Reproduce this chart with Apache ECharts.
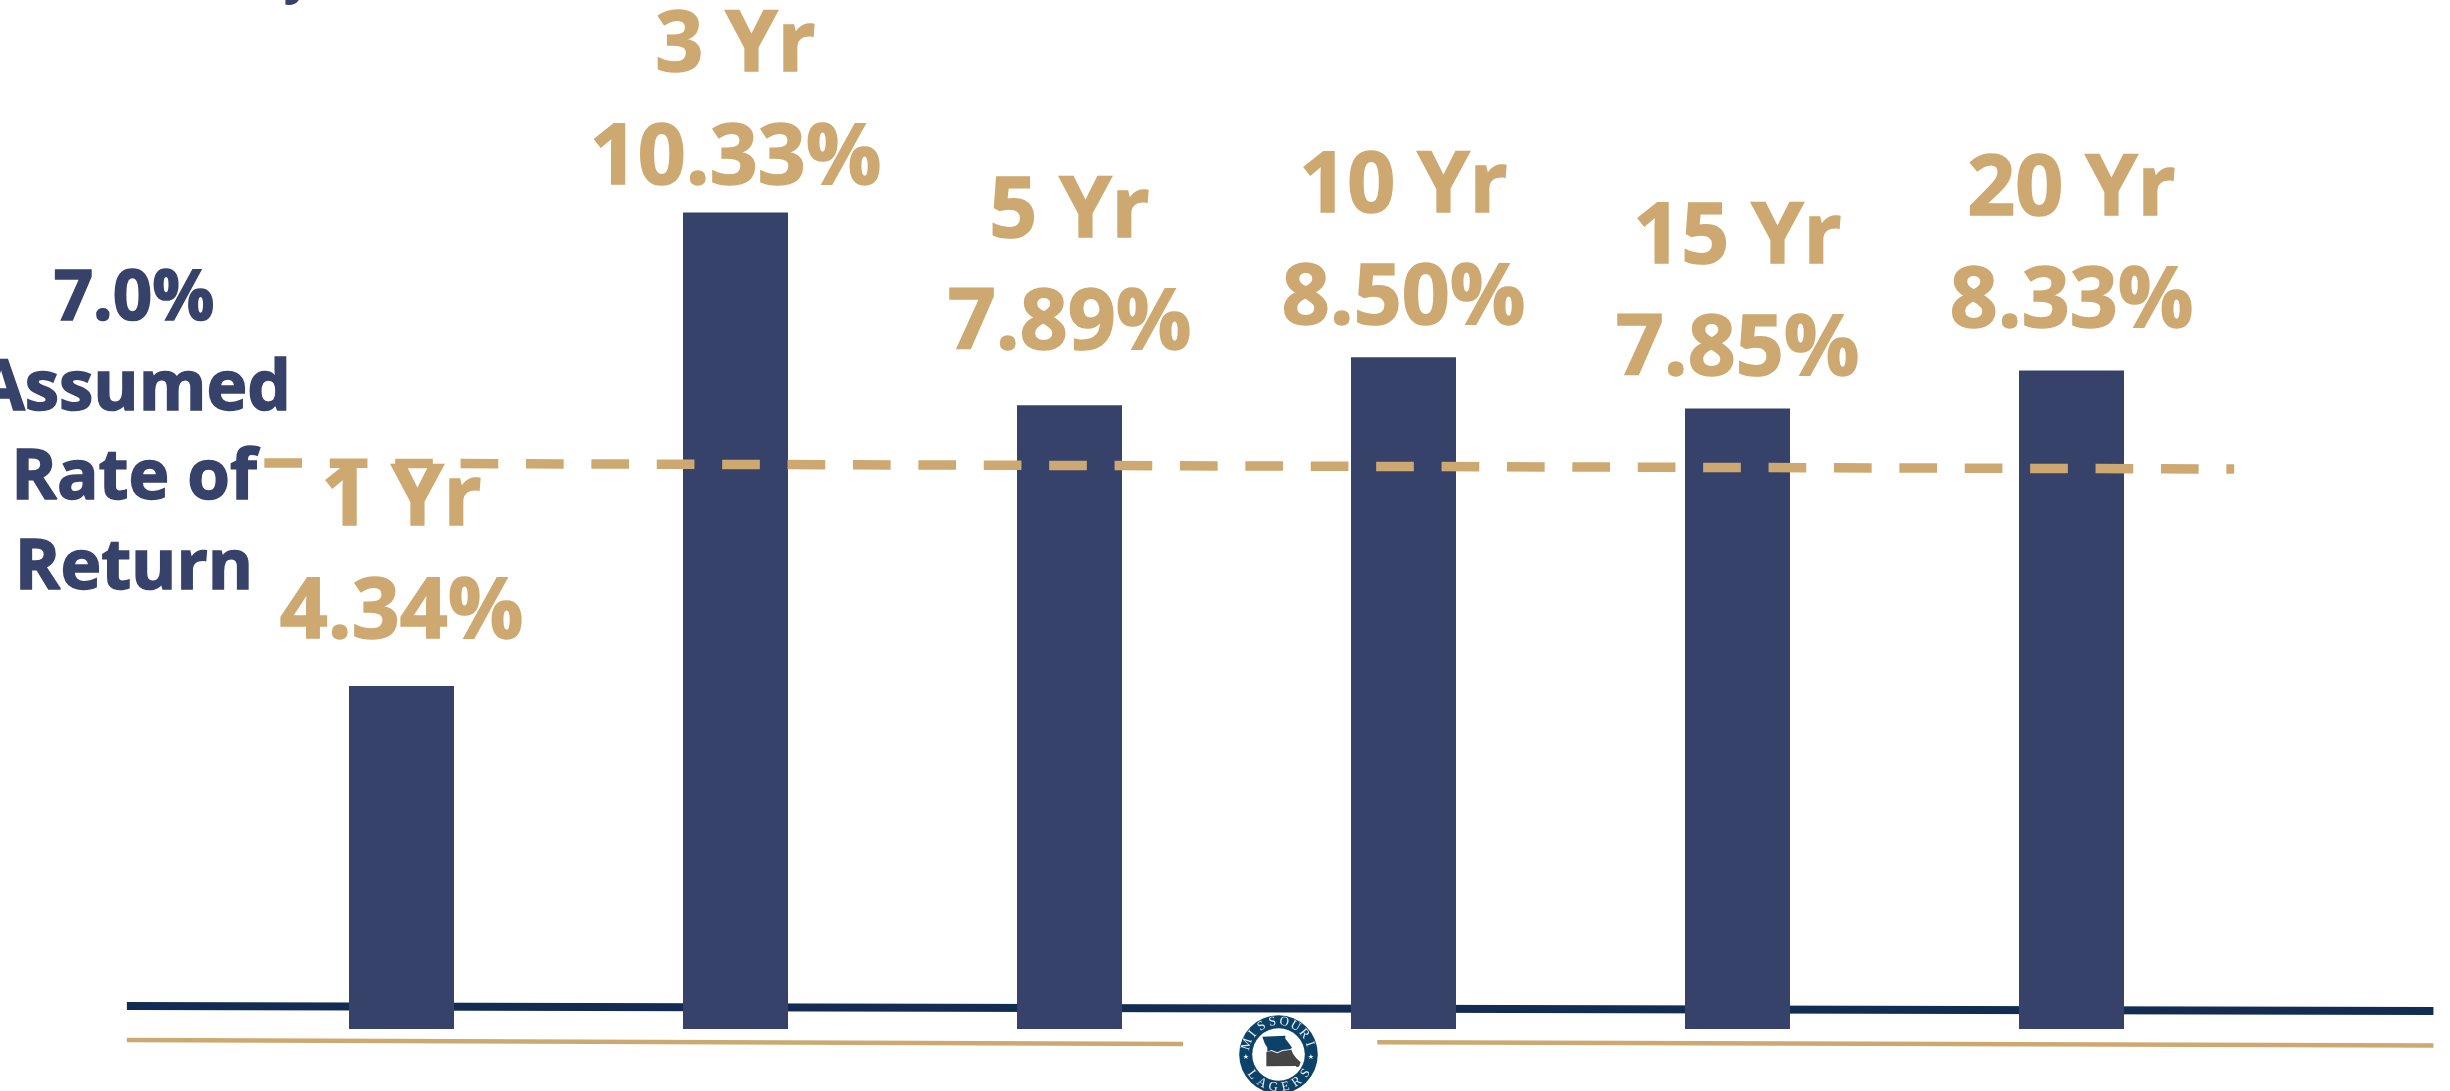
<!DOCTYPE html>
<html>
<head>
<meta charset="utf-8">
<style>html,body{margin:0;padding:0;background:#fff}#c{width:2450px;height:1091px}</style>
<script src="https://cdn.jsdelivr.net/npm/echarts@6/dist/echarts.min.js"></script>
</head>
<body>
<div id="c"></div>
<script>
const categories = ['1 Yr', '3 Yr', '5 Yr', '10 Yr', '15 Yr', '20 Yr'];
const returns = [4.34, 10.33, 7.89, 8.50, 7.85, 8.33];
const assumedLabel = ['7.0%', 'Assumed', 'Rate of', 'Return'];
// Rules, as [category-slot position, value]
const assumedRule = [[0.089, 7.161], [5.992, 7.085]];
const navyRule = [[-0.323, 0.291], [6.589, 0.228]];
const goldRuleLeft = [[-0.323, -0.139], [2.842, -0.19]];
const goldRuleRight = [[3.424, -0.168], [6.589, -0.21]];

const NAVY = '#36426a', GOLD = '#cda971', DEEP = '#132c54', SEAL = '#0d4268';
const FONT = '"Open Sans"';
const labelGap = [21, 1.5, 29, 5.5, 6, 16];
const Y_MIN = -0.7844, Y_MAX = 13.0187;

const chart = echarts.init(document.getElementById('c'), null, {renderer: 'canvas'});

function rule(data, color, width, z, dash) {
  return {
    type: 'line', xAxisIndex: 1, yAxisIndex: 1, data, z, clip: false, silent: true,
    showSymbol: false, symbol: 'none',
    lineStyle: {color, width, type: dash || 'solid', cap: 'butt'}
  };
}

// Seal at the foot of the page
function arcLetters(word, startDeg, stepDeg, radius, flip) {
  const cx = 1278.5, cy = 1054.5;
  return word.split('').map((ch, i) => {
    const a = (startDeg + i * stepDeg) * Math.PI / 180;
    const x = cx + radius * Math.sin(a), y = cy - radius * Math.cos(a);
    return {
      type: 'text', x, y, rotation: flip ? Math.PI - a : -a, z: 30, silent: true,
      style: {text: ch, fill: '#e8eef3', font: '13px "Liberation Serif"', textAlign: 'center', textVerticalAlign: 'middle'}
    };
  });
}
const sealParts = [
  {type: 'circle', shape: {cx: 1278.5, cy: 1054.5, r: 39.3}, style: {fill: SEAL}, z: 28, silent: true},
  {type: 'circle', shape: {cx: 1278.5, cy: 1054.5, r: 26.3}, style: {fill: '#fff'}, z: 29, silent: true},
  {type: 'group', x: 1228, y: 1005, scaleX: 1 / 3, scaleY: 1 / 3, silent: true, z: 30, children: [
    {type: 'polygon', z: 30, shape: {points: [[103,95],[172,92],[172,101],[185,118],[192,128],[186,133],[163,135],[148,142],[130,135],[118,140],[118,128],[110,115]]}, style: {fill: SEAL}},
    {type: 'polygon', z: 30, shape: {points: [[115,141],[130,138],[148,145],[163,138],[190,134],[195,146],[205,160],[218,172],[213,185],[205,186],[204,183],[115,184]]}, style: {fill: '#454545'}}
  ]},
  {type: 'text', x: 1246, y: 1057, z: 30, silent: true, style: {text: '★', fill: '#e8eef3', font: '7px "DejaVu Sans"', textAlign: 'center', textVerticalAlign: 'middle'}},
  {type: 'text', x: 1311, y: 1057, z: 30, silent: true, style: {text: '★', fill: '#e8eef3', font: '7px "DejaVu Sans"', textAlign: 'center', textVerticalAlign: 'middle'}}
].concat(arcLetters('MISSOURI', -72, 20.5, 33, false), arcLetters('LAGERS', 232, -21.4, 33, true));

chart.setOption({
  backgroundColor: '#ffffff',
  animation: false,
  grid: [
    {left: 234.5, top: 0, width: 2004, height: 1091},
    {left: 0, top: 0, width: 2450, height: 1091}
  ],
  xAxis: [
    {type: 'category', gridIndex: 0, data: categories, show: false},
    {type: 'value', gridIndex: 1, min: -0.7032, max: 6.6387, show: false}
  ],
  yAxis: [
    {type: 'value', gridIndex: 0, min: Y_MIN, max: Y_MAX, show: false},
    {type: 'value', gridIndex: 1, min: Y_MIN, max: Y_MAX, show: false}
  ],
  series: [
    rule(navyRule, DEEP, 8, 1),
    rule(goldRuleLeft, GOLD, 4.5, 1),
    rule(goldRuleRight, GOLD, 4.5, 1),
    {
      type: 'bar', xAxisIndex: 0, yAxisIndex: 0, barWidth: 105, z: 5, silent: true,
      itemStyle: {color: NAVY},
      data: returns.map((v, i) => ({
        value: v,
        label: {
          show: true, position: 'top', distance: labelGap[i], offset: [0, 5], color: GOLD,
          fontFamily: FONT, fontWeight: 'bold', fontSize: 84, lineHeight: 112.5, align: 'center',
          textBorderColor: GOLD, textBorderWidth: 1.5,
          formatter: categories[i] + '\n' + v.toFixed(2) + '%'
        }
      }))
    },
    rule(assumedRule, GOLD, 9.5, 10, [37.7, 27.7])
  ],
  graphic: {elements: [
    {type: 'text', x: 134, y: 256, z: 20, silent: true,
     style: {text: assumedLabel.join('\n'), fill: NAVY, font: 'bold 69px ' + FONT, lineHeight: 89.5, textAlign: 'center', textVerticalAlign: 'top', stroke: NAVY, lineWidth: 1.5}},
    {type: 'text', x: 298, y: -46, z: 20, silent: true,
     style: {text: 'y', fill: NAVY, font: 'bold 50px ' + FONT, textAlign: 'center', textVerticalAlign: 'top'}}
  ].concat(sealParts)}
});
</script>
</body>
</html>
